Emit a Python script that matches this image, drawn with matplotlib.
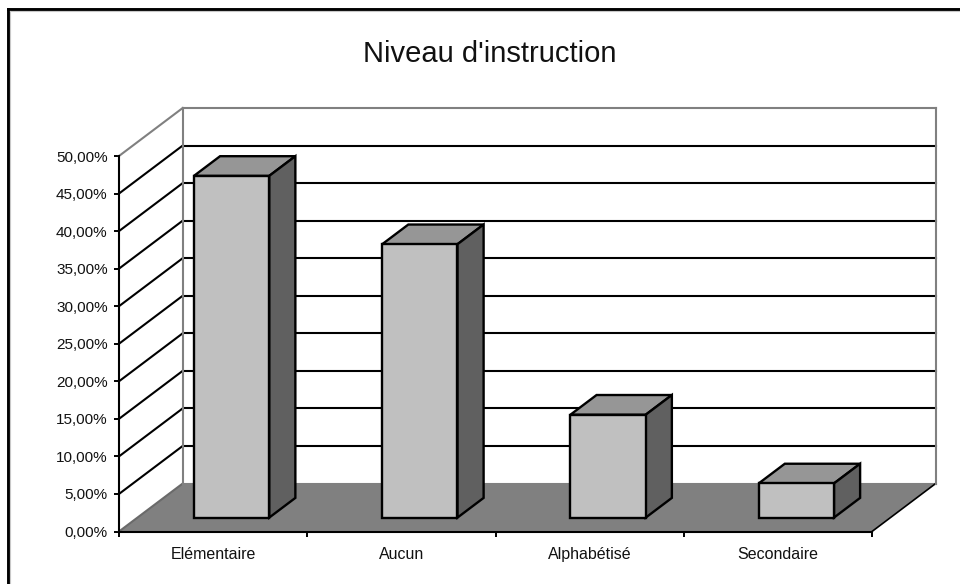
#!/usr/bin/env python3
"""Niveau d'instruction : histogramme facon Excel 3D, en projection oblique."""
import matplotlib
matplotlib.use("Agg")
import matplotlib.pyplot as plt
from matplotlib.lines import Line2D
from matplotlib.patches import Polygon

CATEGORIES = ["Elémentaire", "Aucun", "Alphabétisé", "Secondaire"]
VALUES = [45.5, 36.4, 13.7, 4.55]
Y_TICKS = [0, 5, 10, 15, 20, 25, 30, 35, 40, 45, 50]
Y_LABELS = ["0,00%", "5,00%", "10,00%", "15,00%", "20,00%", "25,00%",
            "30,00%", "35,00%", "40,00%", "45,00%", "50,00%"]

W, H = 960, 584
LEFT, RIGHT, BOTTOM, TOP = 119, 872, 531.5, 156    # plan avant, en pixels

# decalage de profondeur du plan arriere, en unites de donnees
DEPTH_X = 63.7 / ((RIGHT - LEFT) / len(CATEGORIES))
DEPTH_Y = 48 / ((BOTTOM - TOP) / Y_TICKS[-1])
BAR_WIDTH = 0.4
BAR_NEAR, BAR_FAR = 0.29, 0.70

BLACK_LW = 1.5
BAR_LW = 1.7
GREY_LW = 1.5
GREY = "#808080"


def proj(x, y, d=0.0):
    return x + d * DEPTH_X, y + d * DEPTH_Y


def face(ax, points, color, zorder=3, lw=BAR_LW, edge="black"):
    ax.add_patch(Polygon([proj(*p) for p in points], closed=True, facecolor=color,
                         edgecolor=edge, linewidth=lw, joinstyle="miter",
                         clip_on=False, zorder=zorder))


def line(ax, a, b, color="black", lw=BLACK_LW, zorder=2):
    xa, ya = proj(*a)
    xb, yb = proj(*b)
    ax.plot([xa, xb], [ya, yb], color=color, lw=lw, clip_on=False, zorder=zorder,
            solid_capstyle="projecting")


def main():
    plt.rcParams["font.family"] = ["Liberation Sans", "DejaVu Sans"]
    fig = plt.figure(figsize=(W / 100, H / 100), dpi=100, facecolor="white")
    ax = fig.add_axes([LEFT / W, 1 - BOTTOM / H, (RIGHT - LEFT) / W, (BOTTOM - TOP) / H])
    ax.set_facecolor("none")
    n = len(CATEGORIES)
    ymax = Y_TICKS[-1]
    ax.set_xlim(0, n)
    ax.set_ylim(0, ymax)

    # sol
    face(ax, [(0, 0, 0), (n, 0, 0), (n, 0, 1), (0, 0, 1)], "#808080", zorder=1, lw=0, edge="none")
    line(ax, (0, 0, 1), (n, 0, 1), GREY, GREY_LW)
    line(ax, (0, 0, 0), (0, 0, 1), "#6a6a6a", GREY_LW)
    line(ax, (n, 0, 0), (n, 0, 1), "black", 1.2)

    # murs et quadrillage
    for v in Y_TICKS[1:-1]:
        line(ax, (0, v, 0), (0, v, 1))
        line(ax, (0, v, 1), (n, v, 1))
    line(ax, (0, ymax, 0), (0, ymax, 1), GREY, GREY_LW)
    line(ax, (0, ymax, 1), (n, ymax, 1), GREY, GREY_LW)
    line(ax, (0, 0, 1), (0, ymax, 1), GREY, GREY_LW)
    line(ax, (n, 0, 1), (n, ymax, 1), GREY, GREY_LW)

    # barres
    for i, v in enumerate(VALUES):
        x0 = i + 0.5 - BAR_WIDTH / 2
        x1 = i + 0.5 + BAR_WIDTH / 2
        face(ax, [(x0, v, BAR_NEAR), (x1, v, BAR_NEAR), (x1, v, BAR_FAR), (x0, v, BAR_FAR)], "#969696")
        face(ax, [(x1, 0, BAR_NEAR), (x1, 0, BAR_FAR), (x1, v, BAR_FAR), (x1, v, BAR_NEAR)], "#606060")
        face(ax, [(x0, 0, BAR_NEAR), (x1, 0, BAR_NEAR), (x1, v, BAR_NEAR), (x0, v, BAR_NEAR)], "#C0C0C0")

    # axes
    for side in ["top", "right"]:
        ax.spines[side].set_visible(False)
    for side in ["left", "bottom"]:
        ax.spines[side].set_linewidth(BLACK_LW)
        ax.spines[side].set_zorder(4)
    ax.set_yticks(Y_TICKS, Y_LABELS, fontsize=11, color="#111111")
    ax.tick_params(axis="y", length=3.6, width=1.4, pad=4.5)
    ax.set_xticks(range(n + 1), [""] * (n + 1))
    ax.tick_params(axis="x", which="major", length=3.6, width=1.4)
    ax.set_xticks([i + 0.5 for i in range(n)], CATEGORIES, minor=True, fontsize=11.5, color="#111111")
    ax.tick_params(axis="x", which="minor", length=0, pad=11)

    # titre et cadre de la zone de graphique
    fig.text(489.5 / W, 1 - 54 / H, "Niveau d'instruction", fontsize=21, ha="center", va="center",
             color="#111111")
    for xs, ys, c, lw in [([8, 8], [9, H], "black", 2.1), ([8, W], [9, 9], "black", 2.1),
                          ([10, 10], [11, H], "#c8c8c8", 0.8), ([10, W], [10.5, 10.5], "#c8c8c8", 0.8)]:
        fig.add_artist(Line2D([x / W for x in xs], [1 - y / H for y in ys], color=c, lw=lw,
                              solid_capstyle="projecting"))

    fig.savefig("out.png", dpi=100)


if __name__ == "__main__":
    main()
